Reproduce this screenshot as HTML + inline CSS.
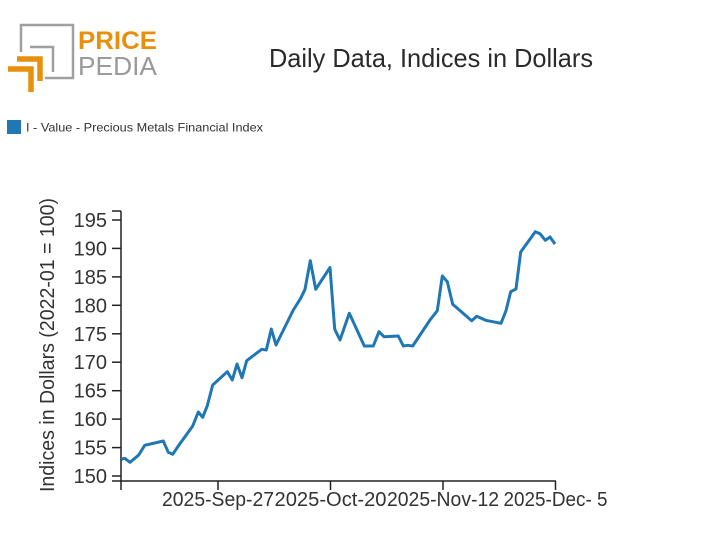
<!DOCTYPE html>
<html>
<head>
<meta charset="utf-8">
<style>
  html,body{margin:0;padding:0;background:#fff;}
  svg{display:block;}
  text{font-family:"Liberation Sans", "DejaVu Sans", sans-serif;}
</style>
</head>
<body>
<svg width="712" height="555" viewBox="0 0 712 555" xmlns="http://www.w3.org/2000/svg">
  <rect x="0" y="0" width="712" height="555" fill="#fff"/>
  <!-- Logo -->
  <g fill="none" stroke="#a0a0a0" stroke-width="2.5">
    <polyline points="21,52 21,25 73,25 73,78 45,78"/>
    <polyline points="30,47 53,47 53,72"/>
  </g>
  <g fill="none" stroke="#e8900c" stroke-width="5.5">
    <polyline points="17,59 40,59 40,81"/>
    <polyline points="8,69 31,69 31,92"/>
  </g>
  <text x="78" y="49" font-size="25" font-weight="bold" fill="#e8900c" textLength="79" lengthAdjust="spacingAndGlyphs">PRICE</text>
  <text x="78" y="75" font-size="26" fill="#9a9a9a" textLength="79" lengthAdjust="spacingAndGlyphs" style="font-weight:300">PEDIA</text>

  <!-- Title -->
  <text x="269" y="67" font-size="26" fill="#2a2a2a" textLength="324" lengthAdjust="spacingAndGlyphs">Daily Data, Indices in Dollars</text>

  <!-- Legend -->
  <rect x="7" y="120" width="14" height="14" fill="#1f77b4"/>
  <text x="26" y="131.5" font-size="12" fill="#333" textLength="237" lengthAdjust="spacingAndGlyphs">I - Value - Precious Metals Financial Index</text>

  <!-- Y axis label -->
  <text transform="translate(54,345) rotate(-90)" text-anchor="middle" font-size="20" fill="#333" textLength="294" lengthAdjust="spacingAndGlyphs">Indices in Dollars (2022-01 = 100)</text>

  <!-- Axes -->
  <g stroke="#222" stroke-width="1.5" fill="none">
    <line x1="121" y1="211" x2="121" y2="481"/>
    <line x1="112" y1="481" x2="556" y2="481"/>
    <!-- y ticks -->
    <line x1="112" y1="211" x2="121" y2="211"/>
    <line x1="112" y1="220" x2="121" y2="220"/>
    <line x1="112" y1="248.4" x2="121" y2="248.4"/>
    <line x1="112" y1="276.9" x2="121" y2="276.9"/>
    <line x1="112" y1="305.3" x2="121" y2="305.3"/>
    <line x1="112" y1="333.8" x2="121" y2="333.8"/>
    <line x1="112" y1="362.2" x2="121" y2="362.2"/>
    <line x1="112" y1="390.7" x2="121" y2="390.7"/>
    <line x1="112" y1="419.1" x2="121" y2="419.1"/>
    <line x1="112" y1="447.6" x2="121" y2="447.6"/>
    <line x1="112" y1="476" x2="121" y2="476"/>
    <!-- x ticks -->
    <line x1="121" y1="481" x2="121" y2="490"/>
    <line x1="218" y1="481" x2="218" y2="490"/>
    <line x1="330.5" y1="481" x2="330.5" y2="490"/>
    <line x1="443" y1="481" x2="443" y2="490"/>
    <line x1="555.5" y1="481" x2="555.5" y2="490"/>
  </g>

  <!-- Y tick labels -->
  <g font-size="20" fill="#333" text-anchor="end">
    <text x="107" y="227">195</text>
    <text x="107" y="255.4">190</text>
    <text x="107" y="283.9">185</text>
    <text x="107" y="312.3">180</text>
    <text x="107" y="340.8">175</text>
    <text x="107" y="369.2">170</text>
    <text x="107" y="397.7">165</text>
    <text x="107" y="426.1">160</text>
    <text x="107" y="454.6">155</text>
    <text x="107" y="483">150</text>
  </g>

  <!-- X tick labels -->
  <g font-size="20" fill="#333" text-anchor="middle">
    <text x="218" y="506" textLength="112" lengthAdjust="spacingAndGlyphs">2025-Sep-27</text>
    <text x="330.5" y="506" textLength="112" lengthAdjust="spacingAndGlyphs">2025-Oct-20</text>
    <text x="443" y="506" textLength="112" lengthAdjust="spacingAndGlyphs">2025-Nov-12</text>
    <text x="555.5" y="506" textLength="104" lengthAdjust="spacingAndGlyphs">2025-Dec- 5</text>
  </g>

  <!-- Series -->
  <polyline fill="none" stroke="#1f77b4" stroke-width="3" stroke-linejoin="round"
    points="121.3,459.3 124.7,458.3 130,462.3 138.7,455 144.7,445.3 163.3,441 168.3,452.3 172.7,454.3 178.3,446 192.7,426 198.3,412 202.7,417.3 207.3,405.7 212.7,385 227.3,371.7 232.3,380 237,364 242,377.7 246.7,360.7 261.7,349.3 266.3,350 271.3,329 276,345 293.3,310 300.7,298.3 305,289.3 310.3,260.7 315.7,289.3 330,267.5 334.7,329.2 340,340 349.3,313.3 364.3,346 373.3,346 379,331.7 384,336.7 398.3,336 403.3,346 407.7,345.3 412.7,346 430,320 437.3,310.7 442.3,276 447.3,281.7 452.7,304.3 471.7,320.7 476.7,316.3 485.7,320.3 501,323.3 506,310.7 510.7,291.7 516,289 520.7,252 535.3,231.7 540,233.7 545.3,240.3 550,237 555,244"/>
</svg>
</body>
</html>
